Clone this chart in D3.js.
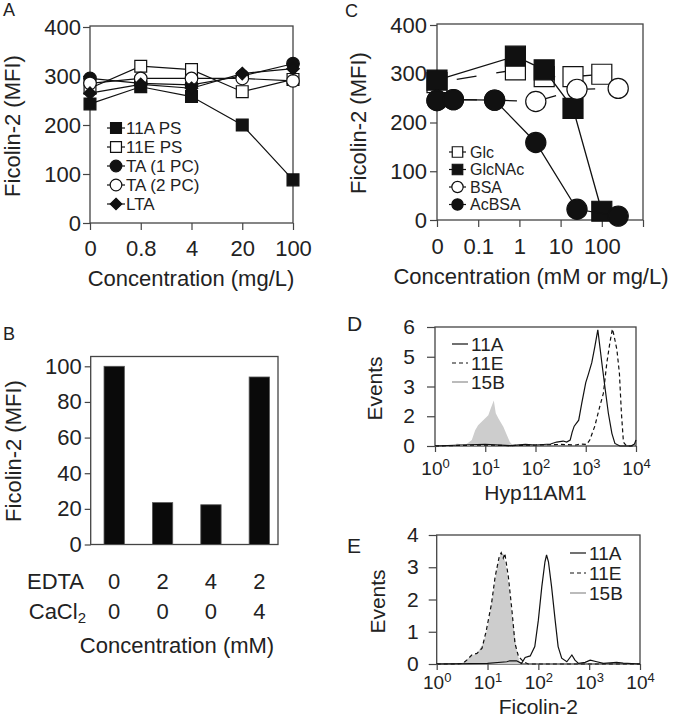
<!DOCTYPE html>
<html>
<head>
<meta charset="utf-8">
<script src="https://cdn.jsdelivr.net/npm/d3@7"></script>
<style>
  body { margin: 0; background: #fff; }
  svg text { font-family: "Liberation Sans", Arial, sans-serif; fill: #222; }
</style>
</head>
<body>
<svg id="fig" width="674" height="720"></svg>
<script>
// ---- panel A: competition with polysaccharides
const A_CONC = ['0', '0.8', '4', '20', '100'];
const A_SERIES = ['11A PS', '11E PS', 'TA (1 PC)', 'TA (2 PC)', 'LTA'];
const A_11A_PS = [243, 278, 258, 200, 88];
const A_11E_PS = [275, 320, 313, 268, 293];
const A_TA1 = [295, 285, 282, 300, 325];
const A_TA2 = [285, 295, 295, 295, 290];
const A_LTA = [265, 283, 275, 305, 315];
const A_TICKS = [0, 100, 200, 300, 400];

// ---- panel B: EDTA / CaCl2
const B_EDTA = ['0', '2', '4', '2'];
const B_CACL2 = ['0', '0', '0', '4'];
const B_VALUES = [100, 23.5, 22.3, 94];
const B_TICKS = [0, 20, 40, 60, 80, 100];

// ---- panel C: sugars and BSA (0 is drawn at 0.01 on the log axis)
const C_SERIES = ['Glc', 'GlcNAc', 'BSA', 'AcBSA'];
const C_SUGAR_X = [0, 0.8, 4, 20, 100];
const C_GLC = [282, 308, 294, 294, 299];
const C_GLCNAC = [287, 336, 308, 229, 18];
const C_BSA_X = [0, 0.025, 0.25, 2.5, 25, 250];
const C_BSA = [245, 247, 246, 243, 268, 270];
const C_ACBSA = [245, 247, 246, 159, 22, 8];
const C_TICKS = [0.01, 0.1, 1, 10, 100, 1000];
const C_TICK_LABELS = ['0', '0.1', '1', '10', '100', ''];
const C_Y_TICKS = [0, 100, 200, 300, 400];

// ---- panels D/E: flow cytometry histograms
const HIST_SERIES = ['11A', '11E', '15B'];
const D_11A_X = [1, 3.2, 10, 31.6, 63, 100, 200, 263, 355, 417, 490, 537, 589, 724, 832, 1000, 1122, 1318, 1514, 1738, 2089, 2399, 2818, 3311, 3802, 4786, 7943, 9333, 10000];
const D_11A_Y = [0, 0.05, 0.08, 0.02, 0.08, 0.05, 0.1, 0.2, 0.25, 0.2, 0.3, 0.7, 1.0, 1.3, 2.15, 3.2, 3.6, 4.2, 5.0, 5.86, 4.2, 3.0, 1.65, 0.64, 0.13, 0, 0, 0.1, 0.3];
const D_11E_X = [1, 3.2, 10, 31.6, 100, 316, 631, 794, 1047, 1202, 1514, 1905, 2239, 2630, 3020, 3388, 3631, 4169, 4677, 5129, 5623, 6457, 10000];
const D_11E_Y = [0, 0.03, 0.05, 0.02, 0.05, 0.08, 0.05, 0.1, 0.08, 0.3, 1.0, 2.0, 2.65, 4.2, 5.2, 5.9, 5.6, 4.85, 3.66, 1.65, 0.2, 0, 0];
const D_15B_X = [2.5, 2.7, 4.0, 5.4, 6.3, 7.2, 9.1, 11.5, 12.9, 14.8, 16.2, 18.2, 22.9, 26.9, 30.9, 36.3];
const D_15B_Y = [0, 0.13, 0.05, 0.3, 0.8, 1.05, 1.3, 1.55, 1.9, 2.3, 1.65, 1.4, 0.97, 0.55, 0.2, 0];
const D_Y_TICKS = [0, 1.5, 3, 4.5, 6];

const E_11A_X = [1, 10, 24.0, 27.5, 37.2, 46.8, 55.0, 69.2, 85.1, 100, 117, 135, 145, 158, 182, 214, 245, 288, 363, 457, 525, 617, 832, 1047, 1413, 1905, 3467, 4677, 10000];
const E_11A_Y = [0, 0.02, 0.07, 0.1, 0.1, 0.02, 0.2, 0.25, 0.54, 1.36, 2.4, 3.17, 3.38, 3.17, 2.4, 1.36, 0.54, 0.18, 0.07, 0.28, 0.12, 0.02, 0.05, 0.12, 0.07, 0.02, 0.05, 0.03, 0];
const E_11E_X = [1, 2.5, 3.3, 3.9, 4.9, 6.2, 7.8, 9.5, 12.0, 14.1, 17.0, 18.6, 20.4, 21.9, 25.7, 30.2, 34.7, 40.7, 51.3, 63.1, 10000];
const E_11E_Y = [0, 0, 0.02, 0.12, 0.28, 0.33, 0.49, 1.05, 1.88, 2.7, 3.33, 3.45, 3.28, 3.43, 2.7, 1.67, 0.64, 0.23, 0.07, 0, 0];
const E_15B_X = [2.8, 3.3, 4.6, 6.2, 8.3, 10.5, 12.9, 15.1, 17.8, 20.4, 24.0, 27.5, 32.4, 37.2, 43.7];
const E_15B_Y = [0, 0.05, 0.23, 0.33, 0.64, 1.26, 2.19, 2.91, 3.38, 3.43, 2.91, 2.09, 1.16, 0.45, 0];
const E_Y_TICKS = [0, 1, 2, 3, 4];
const DECADES = [1, 10, 100, 1000, 10000];

const svg = d3.select("#fig");
const AXIS_COLOR = "#444";

function styleAxis(g, size) {
	g.attr("font-size", size).attr("font-family", null).attr("color", AXIS_COLOR);
	g.select(".domain").remove();
	g.selectAll(".tick line").attr("stroke-width", 1.2);
	g.selectAll(".tick text").attr("fill", "#222");
}

function frame(x0, x1, y0, y1) {
	svg.append("rect")
		.attr("x", x0).attr("y", y0)
		.attr("width", x1 - x0).attr("height", y1 - y0)
		.attr("fill", "none").attr("stroke", AXIS_COLOR).attr("stroke-width", 1.3);
}

function label(x, y, str, size, anchor = "start") {
	return svg.append("text").attr("x", x).attr("y", y)
		.attr("font-size", size).attr("text-anchor", anchor).text(str);
}

function yTitle(x, y, str, size) {
	svg.append("text")
		.attr("transform", `translate(${x},${y}) rotate(-90)`)
		.attr("text-anchor", "middle").attr("dy", "0.35em")
		.attr("font-size", size).text(str);
}

function marker(g, x, y, sym, size, filled) {
	g.append("path")
		.attr("d", d3.symbol().type(sym).size(size)())
		.attr("transform", `translate(${x},${y})`)
		.attr("fill", filled ? "#111" : "#fff")
		.attr("stroke", "#111").attr("stroke-width", 1.2);
}

// ================= A =================
{
	const x = d3.scalePoint().domain(A_CONC).range([90, 293]);
	const y = d3.scaleLinear().domain([0, 400]).range([223, 27]);
	frame(90, 293, 26, 223);
	svg.append("g").attr("transform", "translate(90,0)")
		.call(d3.axisLeft(y).tickValues(A_TICKS).tickSize(7).tickPadding(2))
		.call(styleAxis, 22);
	svg.append("g").attr("transform", "translate(0,223)")
		.call(d3.axisBottom(x).tickSize(7).tickPadding(10))
		.call(styleAxis, 22);

	const series = [
		{ v: A_11A_PS, sym: d3.symbolSquare, size: 140, filled: true },
		{ v: A_11E_PS, sym: d3.symbolSquare, size: 140, filled: false },
		{ v: A_TA1, sym: d3.symbolCircle, size: 125, filled: true },
		{ v: A_TA2, sym: d3.symbolCircle, size: 125, filled: false },
		{ v: A_LTA, sym: d3.symbolDiamond2, size: 100, filled: true }
	];
	const line = d3.line().x((d, i) => x(A_CONC[i])).y(d => y(d));
	series.forEach(s => {
		const g = svg.append("g");
		g.append("path").attr("d", line(s.v)).attr("fill", "none")
			.attr("stroke", "#111").attr("stroke-width", 1.2);
		s.v.forEach((d, i) => marker(g, x(A_CONC[i]), y(d), s.sym, s.size, s.filled));
	});

	// legend
	const rows = [128, 147, 166, 185, 204];
	series.forEach((s, i) => {
		const g = svg.append("g");
		g.append("line").attr("x1", 107).attr("x2", 125).attr("y1", rows[i]).attr("y2", rows[i])
			.attr("stroke", "#111").attr("stroke-width", 1.2);
		marker(g, 116, rows[i], s.sym, s.size * 0.85, s.filled);
		label(126, rows[i], A_SERIES[i], 17).attr("dy", "0.36em");
	});

	label(3, 16, "A", 18);
	yTitle(12, 126, "Ficolin-2 (MFI)", 22);
	label(191, 286, "Concentration (mg/L)", 22, "middle");
}

// ================= B =================
{
	const x = d3.scaleBand().domain(d3.range(B_VALUES.length))
		.range([90, 283.5]).paddingInner(0.58).paddingOuter(0.29);
	const y = d3.scaleLinear().domain([0, 105.5]).range([544.5, 356.5]);
	frame(90.7, 278, 356.5, 544.5);
	svg.append("g").attr("transform", "translate(90.7,0)")
		.call(d3.axisLeft(y).tickValues(B_TICKS).tickSize(6).tickPadding(3))
		.call(styleAxis, 22);

	svg.append("g").selectAll("rect").data(B_VALUES).enter().append("rect")
		.attr("x", (d, i) => x(i)).attr("width", x.bandwidth())
		.attr("y", d => y(d)).attr("height", d => y(0) - y(d))
		.attr("fill", "#0a0a0a").attr("stroke", "#555").attr("stroke-width", 0.8);

	const c = i => x(i) + x.bandwidth() / 2;
	label(84, 589, "EDTA", 22, "end");
	const ca = label(86, 619, "CaCl", 22, "end");
	ca.append("tspan").attr("font-size", 15).attr("dy", 4).text("2");
	B_EDTA.forEach((t, i) => label(c(i), 589, t, 22, "middle"));
	B_CACL2.forEach((t, i) => label(c(i), 619, t, 22, "middle"));

	label(3, 340, "B", 18);
	yTitle(13, 451, "Ficolin-2 (MFI)", 22);
	label(177, 653, "Concentration (mM)", 22, "middle");
}

// ================= C =================
{
	const x = d3.scaleLog().domain([0.01, 1000]).range([437, 643]);
	const px = v => x(v === 0 ? 0.01 : v);
	const y = d3.scaleLinear().domain([0, 400]).range([220, 25]);
	frame(437, 643, 24, 220);
	svg.append("g").attr("transform", "translate(437,0)")
		.call(d3.axisLeft(y).tickValues(C_Y_TICKS).tickSize(7).tickPadding(3))
		.call(styleAxis, 22);
	svg.append("g").attr("transform", "translate(0,220)")
		.call(d3.axisBottom(x).tickValues(C_TICKS).tickFormat((d, i) => C_TICK_LABELS[i])
			.tickSize(7).tickPadding(11))
		.call(styleAxis, 22);

	const series = [
		{ xs: C_SUGAR_X, v: C_GLC, sym: d3.symbolSquare, size: 400, filled: false, dash: true },
		{ xs: C_SUGAR_X, v: C_GLCNAC, sym: d3.symbolSquare, size: 400, filled: true, dash: false },
		{ xs: C_BSA_X, v: C_BSA, sym: d3.symbolCircle, size: 320, filled: false, dash: true },
		{ xs: C_BSA_X, v: C_ACBSA, sym: d3.symbolCircle, size: 320, filled: true, dash: false }
	];
	series.forEach(s => {
		const line = d3.line().x((d, i) => px(s.xs[i])).y(d => y(d));
		const g = svg.append("g");
		g.append("path").attr("d", line(s.v)).attr("fill", "none")
			.attr("stroke", "#111").attr("stroke-width", 1.3)
			.attr("stroke-dasharray", s.dash ? "20,20" : null)
			.attr("stroke-dashoffset", s.dash ? 20 : null);
		s.v.forEach((d, i) => marker(g, px(s.xs[i]), y(d), s.sym, s.size, s.filled));
	});

	const rows = [152, 169.5, 187, 204.5];
	series.forEach((s, i) => {
		const g = svg.append("g");
		g.append("line").attr("x1", 449).attr("x2", 466).attr("y1", rows[i]).attr("y2", rows[i])
			.attr("stroke", "#111").attr("stroke-width", 1.2);
		marker(g, 457.5, rows[i], s.sym, s.sym === d3.symbolSquare ? 110 : 100, s.filled);
		label(470, rows[i], C_SERIES[i], 16).attr("dy", "0.36em");
	});

	label(345, 17, "C", 18);
	yTitle(358, 123, "Ficolin-2 (MFI)", 22);
	label(531, 284, "Concentration (mM or mg/L)", 22, "middle");
}

// ================= D / E histograms =================
function histPanel(opt) {
	const x = d3.scaleLog().domain([1, 10000]).range([opt.x0, opt.x1]);
	const y = d3.scaleLinear().domain([0, opt.ymax]).range([opt.y1, opt.y0]);
	frame(opt.x0, opt.x1, opt.y0, opt.y1);

	// 15B filled grey
	const area = d3.area().x((d, i) => x(opt.gx[i])).y0(y(0)).y1(d => y(d));
	svg.append("path").attr("d", area(opt.gy)).attr("fill", "#cdcdcd");

	const lineOf = xs => d3.line().x((d, i) => x(xs[i])).y(d => y(d));
	svg.append("path").attr("d", lineOf(opt.ex)(opt.ey)).attr("fill", "none")
		.attr("stroke", "#111").attr("stroke-width", 1.2).attr("stroke-dasharray", "4,3");
	svg.append("path").attr("d", lineOf(opt.ax)(opt.ay)).attr("fill", "none")
		.attr("stroke", "#111").attr("stroke-width", 1.2);

	svg.append("g").attr("transform", `translate(${opt.x0},0)`)
		.call(d3.axisLeft(y).tickValues(opt.yticks).tickFormat(d3.format(".0f"))
			.tickSize(8).tickPadding(opt.ypad))
		.call(styleAxis, 21);
	svg.append("g").attr("transform", `translate(0,${opt.y1})`)
		.call(d3.axisBottom(x).tickValues(DECADES).tickSize(6).tickPadding(opt.xpad))
		.call(styleAxis, 19)
		.call(g => g.selectAll(".tick text").text(null).each(function (d) {
			const t = d3.select(this);
			t.append("tspan").text("10");
			t.append("tspan").attr("dy", "-0.55em").attr("font-size", 13).text(Math.round(Math.log10(d)));
		}));

	// legend
	const styles = [
		{ stroke: "#111", dash: null, w: 1.2 },
		{ stroke: "#111", dash: "4,3", w: 1.2 },
		{ stroke: "#bbb", dash: null, w: 2 }
	];
	styles.forEach((s, i) => {
		const yy = opt.legY[i];
		svg.append("line").attr("x1", opt.legX).attr("x2", opt.legX + 16)
			.attr("y1", yy).attr("y2", yy)
			.attr("stroke", s.stroke).attr("stroke-width", s.w).attr("stroke-dasharray", s.dash);
		label(opt.legX + 19, yy, HIST_SERIES[i], 19).attr("dy", "0.36em");
	});

	label(opt.letterX, opt.letterY, opt.letter, 21);
	yTitle(opt.titleX, (opt.y0 + opt.y1) / 2 + 2, "Events", 21);
	label((opt.x0 + opt.x1) / 2, opt.xTitleY, opt.xTitle, 21, "middle");
}

histPanel({
	x0: 435, x1: 636, y0: 327, y1: 446, ymax: 6, yticks: D_Y_TICKS, ypad: 12, xpad: 10,
	ax: D_11A_X, ay: D_11A_Y, ex: D_11E_X, ey: D_11E_Y, gx: D_15B_X, gy: D_15B_Y,
	legX: 452, legY: [344, 363, 382],
	letter: "D", letterX: 347, letterY: 331, titleX: 375,
	xTitle: "Hyp11AM1", xTitleY: 500
});

histPanel({
	x0: 436.7, x1: 640, y0: 535, y1: 664, ymax: 4, yticks: E_Y_TICKS, ypad: 10, xpad: 6,
	ax: E_11A_X, ay: E_11A_Y, ex: E_11E_X, ey: E_11E_Y, gx: E_15B_X, gy: E_15B_Y,
	legX: 570, legY: [553, 573, 593],
	letter: "E", letterX: 347, letterY: 553, titleX: 378,
	xTitle: "Ficolin-2", xTitleY: 714
});
</script>
</body>
</html>
